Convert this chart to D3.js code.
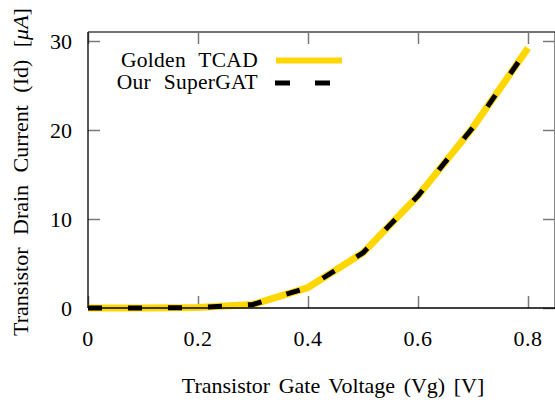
<!DOCTYPE html>
<html>
<head>
<meta charset="utf-8">
<script src="https://cdn.jsdelivr.net/npm/d3@7"></script>
<style>
  body { margin: 0; background: #fff; }
  svg text { font-family: "Liberation Serif", "Times New Roman", serif; fill: #000; }
</style>
</head>
<body>
<svg id="chart" width="555" height="405"></svg>
<script>
// gate voltage samples and drain current for both series
const vg = [0, 0.1, 0.2, 0.3, 0.4, 0.5, 0.6, 0.7, 0.8];
const goldenTcad = [0, 0, 0.05, 0.4, 2.3, 6.2, 12.6, 20.3, 29.2];
const superGat = [0, 0, 0.05, 0.4, 2.3, 6.2, 12.6, 20.3, 29.2];
const xTicks = [0, 0.2, 0.4, 0.6, 0.8];
const yTicks = [0, 10, 20, 30];
const seriesNames = ["Golden TCAD", "Our SuperGAT"];

const svg = d3.select("#chart");
const mLeft = 88, mRight = 555, mTop = 32, mBottom = 308;

const x = d3.scaleLinear().domain([0, 0.85]).range([mLeft, mLeft + 0.85 * 550]);
const y = d3.scaleLinear().domain([0, 31]).range([mBottom, mBottom - 31 * 8.9]);

// frame
svg.append("line").attr("x1", mLeft).attr("x2", mRight).attr("y1", mTop).attr("y2", mTop)
  .attr("stroke", "#444").attr("stroke-width", 1.3);
svg.append("line").attr("x1", mRight).attr("x2", mRight).attr("y1", mTop).attr("y2", mBottom)
  .attr("stroke", "#444").attr("stroke-width", 1.3);

// inward ticks
const tickCol = "#7a7a7a";
const xAxisB = d3.axisBottom(x).tickValues(xTicks).tickSize(-12).tickFormat("");
const xAxisT = d3.axisTop(x).tickValues(xTicks).tickSize(-12).tickFormat("");
const yAxisL = d3.axisLeft(y).tickValues(yTicks).tickSize(-12).tickFormat("");
const yAxisR = d3.axisRight(y).tickValues(yTicks).tickSize(-12).tickFormat("");
[[xAxisB, `translate(0,${mBottom})`], [xAxisT, `translate(0,${mTop})`],
 [yAxisL, `translate(${mLeft},0)`], [yAxisR, `translate(${mRight},0)`]].forEach(([ax, tr]) => {
  const g = svg.append("g").attr("transform", tr).call(ax);
  g.select(".domain").remove();
  g.selectAll(".tick line").attr("stroke", tickCol).attr("stroke-width", 1.5);
});

// tick labels
svg.append("g").selectAll("text").data(xTicks).join("text")
  .attr("x", d => x(d)).attr("y", 346)
  .attr("text-anchor", "middle").attr("font-size", 22).attr("letter-spacing", 0.5)
  .text(d => d3.format("")(d));
svg.append("g").selectAll("text").data(yTicks).join("text")
  .attr("x", 72).attr("y", d => y(d)).attr("dy", "0.35em")
  .attr("text-anchor", "end").attr("font-size", 22)
  .text(d => d);

// curves
const line = d3.line().x(d => x(d[0])).y(d => y(d[1]));
svg.append("path").datum(vg.map((v, i) => [v, goldenTcad[i]]))
  .attr("d", line).attr("fill", "none")
  .attr("stroke", "#ffd700").attr("stroke-width", 7).attr("stroke-linejoin", "round");
svg.append("path").datum(vg.map((v, i) => [v, superGat[i]]))
  .attr("d", line).attr("fill", "none")
  .attr("stroke", "#000").attr("stroke-width", 5).attr("stroke-dasharray", "14,26");

// main axis lines (left, bottom)
svg.append("line").attr("x1", mLeft).attr("x2", mLeft).attr("y1", mTop).attr("y2", mBottom)
  .attr("stroke", "#000").attr("stroke-width", 1.3);
svg.append("line").attr("x1", mLeft).attr("x2", mRight).attr("y1", mBottom).attr("y2", mBottom)
  .attr("stroke", "#000").attr("stroke-width", 1.3);

// legend
const lg = svg.append("g");
lg.append("text").attr("x", 258).attr("y", 67).attr("text-anchor", "end")
  .attr("font-size", 21.5).attr("word-spacing", 7).attr("letter-spacing", 0.3).text(seriesNames[0]);
lg.append("line").attr("x1", 276).attr("x2", 342).attr("y1", 60.5).attr("y2", 60.5)
  .attr("stroke", "#ffd700").attr("stroke-width", 6);
lg.append("text").attr("x", 258).attr("y", 89).attr("text-anchor", "end")
  .attr("font-size", 21.5).attr("word-spacing", 7).attr("letter-spacing", 0.3).text(seriesNames[1]);
lg.append("line").attr("x1", 275).attr("x2", 330).attr("y1", 83).attr("y2", 83)
  .attr("stroke", "#000").attr("stroke-width", 5).attr("stroke-dasharray", "15,25");

// axis titles
svg.append("text").attr("x", 333).attr("y", 393).attr("text-anchor", "middle")
  .attr("font-size", 22).attr("word-spacing", 3).text("Transistor Gate Voltage (Vg) [V]");
const yt = svg.append("text").attr("transform", "translate(28,172) rotate(-90)")
  .attr("text-anchor", "middle").attr("font-size", 22).attr("word-spacing", 7);
yt.append("tspan").text("Transistor Drain Current (Id) [");
yt.append("tspan").attr("font-style", "italic").text("μA");
yt.append("tspan").text("]");
</script>
</body>
</html>
